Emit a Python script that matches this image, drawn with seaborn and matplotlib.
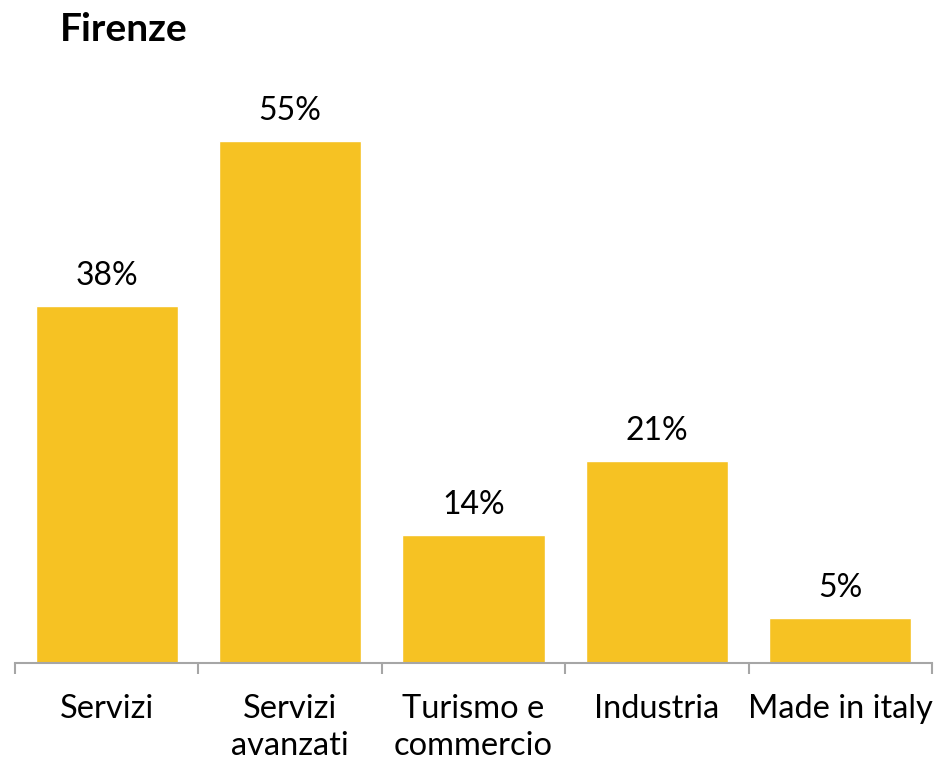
import matplotlib
matplotlib.use("Agg")
import matplotlib.pyplot as plt
import matplotlib.ticker as mticker
import seaborn as sns
import pandas as pd

# ── Data ───────────────────────────────────────────────
categories = ["Servizi", "Servizi\navanzati", "Turismo e\ncommercio",
              "Industria", "Made in italy"]
shares = [37.6, 55.0, 13.5, 21.3, 4.7]

GOLD = "#F6C223"
AXIS_GREY = "#A6A6A6"

# ── Style ──────────────────────────────────────────────
sns.set_theme(style="white")
plt.rcParams["font.family"] = ["Lato", "DejaVu Sans"]

df = pd.DataFrame({"cat": categories, "share": shares})

fig = plt.figure(figsize=(9.36, 7.65), dpi=100)
ax = fig.add_axes([15 / 936, 102 / 765, 917 / 936, 569 / 765])

sns.barplot(data=df, x="cat", y="share", color=GOLD, width=0.775,
            saturation=1, ax=ax)

ax.set_xlim(-0.5, len(categories) - 0.5)
ax.set_ylim(0, 60)
ax.set_xlabel("")
ax.set_ylabel("")
ax.set_yticks([])

for side in ["top", "right", "left"]:
    ax.spines[side].set_visible(False)
ax.spines["bottom"].set_color(AXIS_GREY)
ax.spines["bottom"].set_linewidth(1.5)

# category separators as minor ticks
ax.xaxis.set_minor_locator(mticker.FixedLocator(
    [i - 0.5 for i in range(len(categories) + 1)]))
ax.tick_params(axis="x", which="minor", length=8, width=1.5,
               color=AXIS_GREY, direction="out", bottom=True)
ax.tick_params(axis="x", which="major", length=0, pad=22,
               labelsize=23.5, labelcolor="black")
for lbl in ax.get_xticklabels():
    lbl.set_linespacing(1.3)

ax.bar_label(ax.containers[0], labels=[f"{v:.0f}%" for v in shares],
             padding=11, fontsize=23, color="black")

fig.text(60 / 936, 1 - 41 / 765, "Firenze", fontsize=28,
         fontweight="bold", va="baseline", ha="left", color="black")

fig.savefig("out.png", dpi=100)
plt.close(fig)
